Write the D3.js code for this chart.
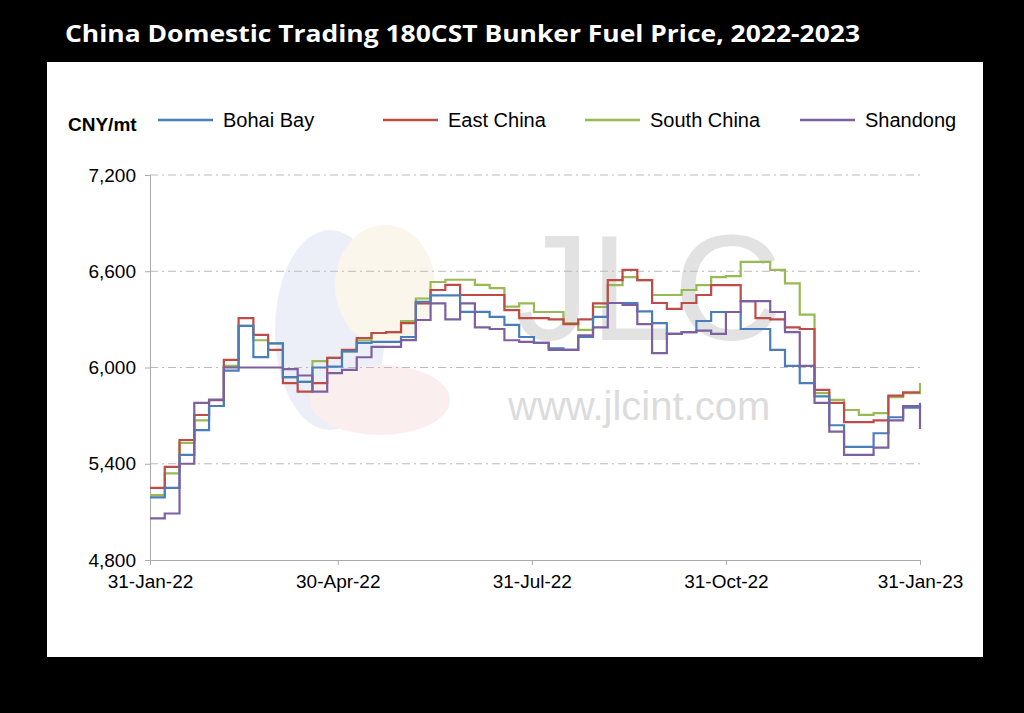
<!DOCTYPE html>
<html><head><meta charset="utf-8">
<script src="https://cdn.jsdelivr.net/npm/d3@7"></script>
<style>body{margin:0;background:#000}</style></head>
<body><svg id="c" width="1024" height="713"></svg>
<script>
const startDate = "2022-01-31";
const weeks = 53;
const seriesNames = ["Bohai Bay","East China","South China","Shandong"];
const seriesColors = ["#4a7ebb","#be4b48","#98b954","#7d60a0"];
const bohai = [5190,5250,5455,5610,5760,5980,6260,6065,6150,5940,5910,6000,6005,6100,6153,6160,6160,6190,6410,6450,6450,6347,6347,6316,6266,6190,6153,6120,6110,6190,6316,6402,6402,6350,6277,6210,6220,6290,6346,6346,6240,6240,6110,6010,5903,5820,5640,5505,5505,5590,5690,5750,5780];
const east  = [5249,5380,5548,5704,5797,6047,6308,6203,6110,5903,5850,5903,6060,6110,6184,6215,6220,6277,6400,6483,6515,6452,6452,6452,6358,6308,6308,6300,6270,6300,6400,6545,6608,6545,6402,6365,6402,6452,6514,6514,6414,6308,6300,6250,6240,5860,5780,5660,5660,5670,5825,5845,5845];
const south = [5205,5340,5530,5670,5760,6010,6260,6170,6150,5940,5910,6040,6060,6100,6170,6215,6220,6290,6430,6533,6547,6547,6515,6495,6380,6400,6346,6346,6277,6234,6377,6514,6564,6545,6452,6452,6483,6514,6564,6570,6658,6658,6608,6525,6330,5840,5798,5735,5705,5715,5815,5840,5903];
const shandong = [5060,5090,5400,5780,5800,6000,6000,6000,6000,5990,5950,5850,5965,5985,6064,6128,6128,6171,6296,6400,6300,6400,6250,6240,6170,6160,6153,6110,6110,6200,6250,6402,6390,6270,6090,6210,6220,6230,6210,6346,6414,6414,6346,6220,6010,5780,5600,5455,5455,5500,5670,5760,5617];
const yTicks = [4800,5400,6000,6600,7200];
const xTickDates = ["2022-01-31","2022-04-30","2022-07-31","2022-10-31","2023-01-31"];
const xTickLabels = ["31-Jan-22","30-Apr-22","31-Jul-22","31-Oct-22","31-Jan-23"];

const svg = d3.select("#c");
const parse = d3.timeParse("%Y-%m-%d");
const d0 = parse(startDate);
const dates = d3.range(weeks).map(i => d3.timeDay.offset(d0, 7*i));
dates[weeks-1] = parse("2023-01-31");

svg.append("rect").attr("width",1024).attr("height",713).attr("fill","#000");
svg.append("text").attr("x",65).attr("y",42).attr("fill","#fff")
  .attr("font-family","Open Sans, sans-serif").attr("font-weight","bold").attr("font-size",23)
  .attr("textLength",795).attr("lengthAdjust","spacingAndGlyphs")
  .text("China Domestic Trading 180CST Bunker Fuel Price, 2022-2023");
svg.append("rect").attr("x",47).attr("y",62).attr("width",936).attr("height",595).attr("fill","#fff");

const x = d3.scaleTime().domain([parse("2022-01-31"), parse("2023-01-31")]).range([150,920]);
const y = d3.scaleLinear().domain([4800,7200]).range([560,175]);

// watermark
const wm = svg.append("g").attr("opacity",0.35);
wm.append("ellipse").attr("cx",330).attr("cy",330).attr("rx",55).attr("ry",100).attr("fill","#c9d4ea");
wm.append("ellipse").attr("cx",385).attr("cy",285).attr("rx",50).attr("ry",60).attr("fill","#f5e6c8");
wm.append("ellipse").attr("cx",380).attr("cy",400).attr("rx",70).attr("ry",35).attr("fill","#f4cfcf");
svg.append("text").attr("x",515).attr("y",340).attr("font-family","Liberation Sans, sans-serif").attr("font-size",150).attr("fill","#e2e2e2").text("JLC");
svg.append("text").attr("x",508).attr("y",420).attr("font-family","Liberation Sans, sans-serif").attr("font-size",40).attr("fill","#dcdcdc").text("www.jlcint.com");

const g = svg.append("g");
g.selectAll(".gl").data(yTicks.slice(1)).join("line")
  .attr("x1",150).attr("x2",920).attr("y1",d=>y(d)).attr("y2",d=>y(d))
  .attr("stroke","#bbb").attr("stroke-dasharray","8,4,2,4");

const ya = g.append("g").attr("transform","translate(150,0)")
  .call(d3.axisLeft(y).tickValues(yTicks).tickFormat(d3.format(",")).tickSize(5));
ya.select(".domain").attr("stroke","#aaa");
ya.selectAll("line").attr("stroke","#aaa");
ya.selectAll("text").attr("font-family","Liberation Sans, Arial, sans-serif").attr("font-size",19).attr("fill","#000").attr("dx",-6);

const xa = g.append("g").attr("transform","translate(0,560)")
  .call(d3.axisBottom(x).tickValues(xTickDates.map(parse)).tickFormat((d,i)=>xTickLabels[i]).tickSize(5));
xa.select(".domain").attr("stroke","#aaa");
xa.selectAll("line").attr("stroke","#aaa");
xa.selectAll("text").attr("font-family","Liberation Sans, Arial, sans-serif").attr("font-size",19).attr("fill","#000").attr("dy",20);

const all = [bohai,east,south,shandong];
const line = d3.line().x((d,i)=>x(dates[i])).y(d=>y(d)).curve(d3.curveStepAfter);
[2,1,0,3].forEach(k=>{
  g.append("path").attr("d",line(all[k])).attr("fill","none").attr("stroke",seriesColors[k]).attr("stroke-width",2.2);
});

// legend
svg.append("text").attr("x",68).attr("y",131).attr("font-family","Liberation Sans, Arial, sans-serif").attr("font-weight","bold").attr("font-size",19).text("CNY/mt");
const lx = [158,383,585,800];
seriesNames.forEach((n,i)=>{
  svg.append("line").attr("x1",lx[i]).attr("x2",lx[i]+55).attr("y1",120).attr("y2",120).attr("stroke",seriesColors[i]).attr("stroke-width",2.5);
  svg.append("text").attr("x",lx[i]+65).attr("y",127).attr("font-family","Liberation Sans, Arial, sans-serif").attr("font-size",20).text(n);
});
</script></body></html>
